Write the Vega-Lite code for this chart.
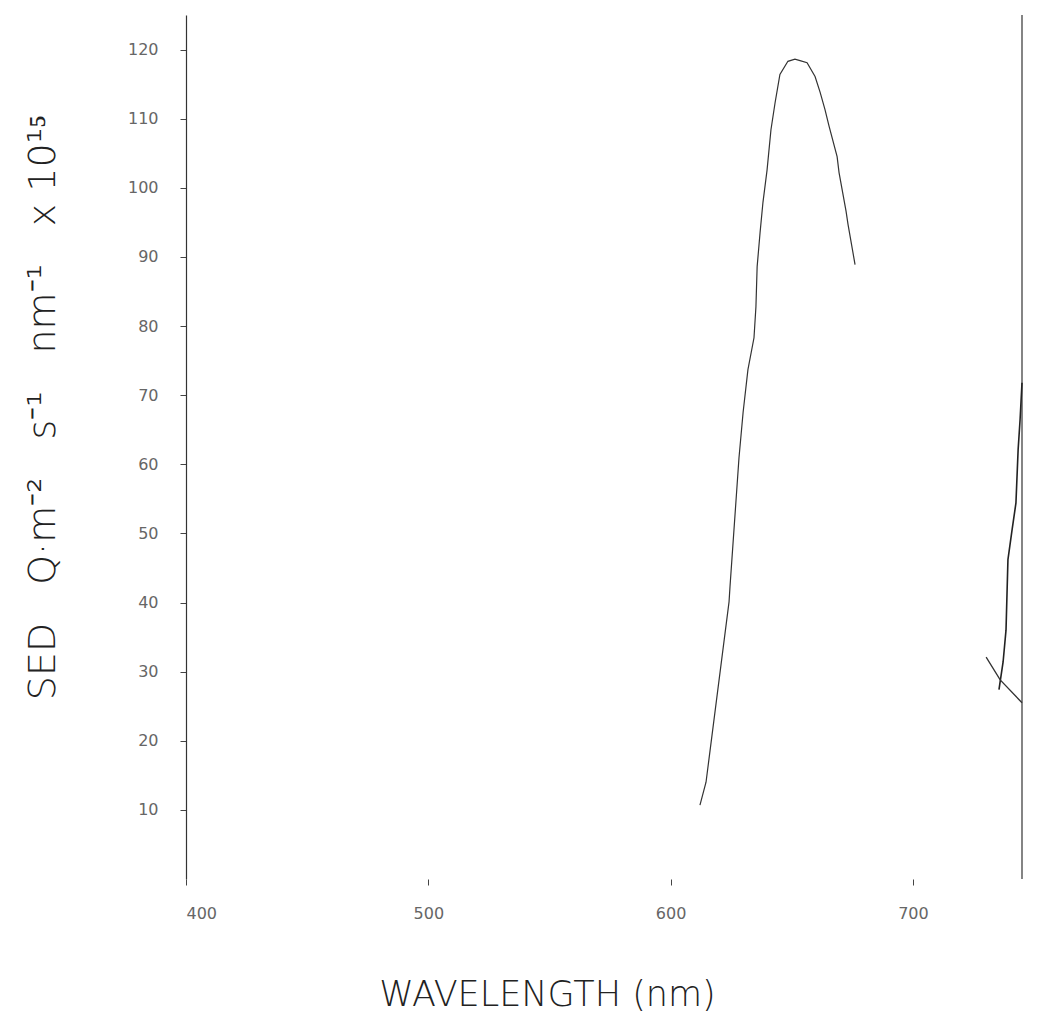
{
  "$schema": "https://vega.github.io/schema/vega-lite/v6.json",
  "autosize": "none",
  "width": 836,
  "height": 864,
  "padding": {"left": 186, "top": 15, "right": 31, "bottom": 157},
  "background": "white",
  "config": {"view": {"stroke": null}, "font": "DejaVu Sans"},
  "datasets": {
    "main": [
      {"w": 612.1, "v": 10.7}, {"w": 614.6, "v": 14.0}, {"w": 624.1, "v": 40.1}, {"w": 624.5, "v": 42.3},
      {"w": 628.2, "v": 60.9}, {"w": 629.9, "v": 67.5}, {"w": 631.9, "v": 73.7}, {"w": 634.4, "v": 78.3},
      {"w": 635.2, "v": 82.8}, {"w": 635.7, "v": 88.6}, {"w": 636.9, "v": 93.5}, {"w": 638.1, "v": 97.9},
      {"w": 639.8, "v": 102.6}, {"w": 641.4, "v": 108.4}, {"w": 643.1, "v": 112.3}, {"w": 645.1, "v": 116.4},
      {"w": 648.4, "v": 118.3}, {"w": 651.3, "v": 118.6}, {"w": 653.4, "v": 118.4}, {"w": 656.3, "v": 118.1},
      {"w": 659.6, "v": 116.1}, {"w": 661.7, "v": 113.8}, {"w": 663.7, "v": 111.3}, {"w": 665.4, "v": 108.9},
      {"w": 668.7, "v": 104.5}, {"w": 669.5, "v": 102.2}, {"w": 672.4, "v": 96.6}, {"w": 673.2, "v": 94.7},
      {"w": 676.1, "v": 88.9}
    ],
    "rise": [
      {"w": 735.5, "v": 27.4}, {"w": 737.2, "v": 31.4}, {"w": 738.4, "v": 36.0}, {"w": 739.2, "v": 46.2},
      {"w": 740.9, "v": 50.5}, {"w": 742.5, "v": 54.4}, {"w": 743.4, "v": 62.1}, {"w": 744.2, "v": 66.4},
      {"w": 745.0, "v": 71.8}
    ],
    "cross": [
      {"w": 730.2, "v": 32.1}, {"w": 736.0, "v": 28.8}, {"w": 745.0, "v": 25.5}
    ],
    "frame": [{"w": 745}]
  },
  "layer": [
    {
      "data": {"name": "frame"},
      "mark": {"type": "rule", "color": "#333", "strokeWidth": 1.2},
      "encoding": {"x": {"field": "w", "type": "quantitative", "scale": {"domain": [400, 745]}}}
    },
    {
      "data": {"name": "main"},
      "mark": {"type": "line", "color": "#333", "strokeWidth": 1.2},
      "encoding": {
        "x": {
          "field": "w", "type": "quantitative",
          "scale": {"domain": [400, 745], "nice": false, "zero": false},
          "axis": {
            "values": [400, 500, 600, 700],
            "domain": false,
            "grid": false,
            "tickSize": 6,
            "tickColor": "#444",
            "labelPadding": 20,
            "labelFontSize": 16,
            "labelColor": "#666",
            "title": "WAVELENGTH (nm)",
            "titleFont": "DejaVu Sans",
            "titleFontSize": 35,
            "titleFontWeight": 200,
            "titleColor": "#222",
            "titleX": 361,
            "titleY": 126,
            "titleBaseline": "alphabetic"
          }
        },
        "y": {
          "field": "v", "type": "quantitative",
          "scale": {"domain": [0, 125], "nice": false},
          "axis": {
            "values": [10, 20, 30, 40, 50, 60, 70, 80, 90, 100, 110, 120],
            "domainColor": "#333",
            "domainWidth": 1.2,
            "grid": false,
            "tickSize": 6,
            "tickColor": "#444",
            "labelPadding": 22,
            "labelFontSize": 16,
            "labelColor": "#666",
            "title": "SED\u2002\u2002Q·m⁻²\u2002\u2002s⁻¹\u2002\u2002nm⁻¹\u2002\u2002x 10¹⁵",
            "titleFont": "DejaVu Sans",
            "titleFontSize": 38,
            "titleFontWeight": 200,
            "titleColor": "#222",
            "titleX": -143,
            "titleY": 392,
            "titleBaseline": "middle"
          }
        }
      }
    },
    {
      "data": {"name": "rise"},
      "mark": {"type": "line", "color": "#222", "strokeWidth": 1.6},
      "encoding": {
        "x": {"field": "w", "type": "quantitative"},
        "y": {"field": "v", "type": "quantitative"}
      }
    },
    {
      "data": {"name": "cross"},
      "mark": {"type": "line", "color": "#333", "strokeWidth": 1.3},
      "encoding": {
        "x": {"field": "w", "type": "quantitative"},
        "y": {"field": "v", "type": "quantitative"}
      }
    }
  ]
}
